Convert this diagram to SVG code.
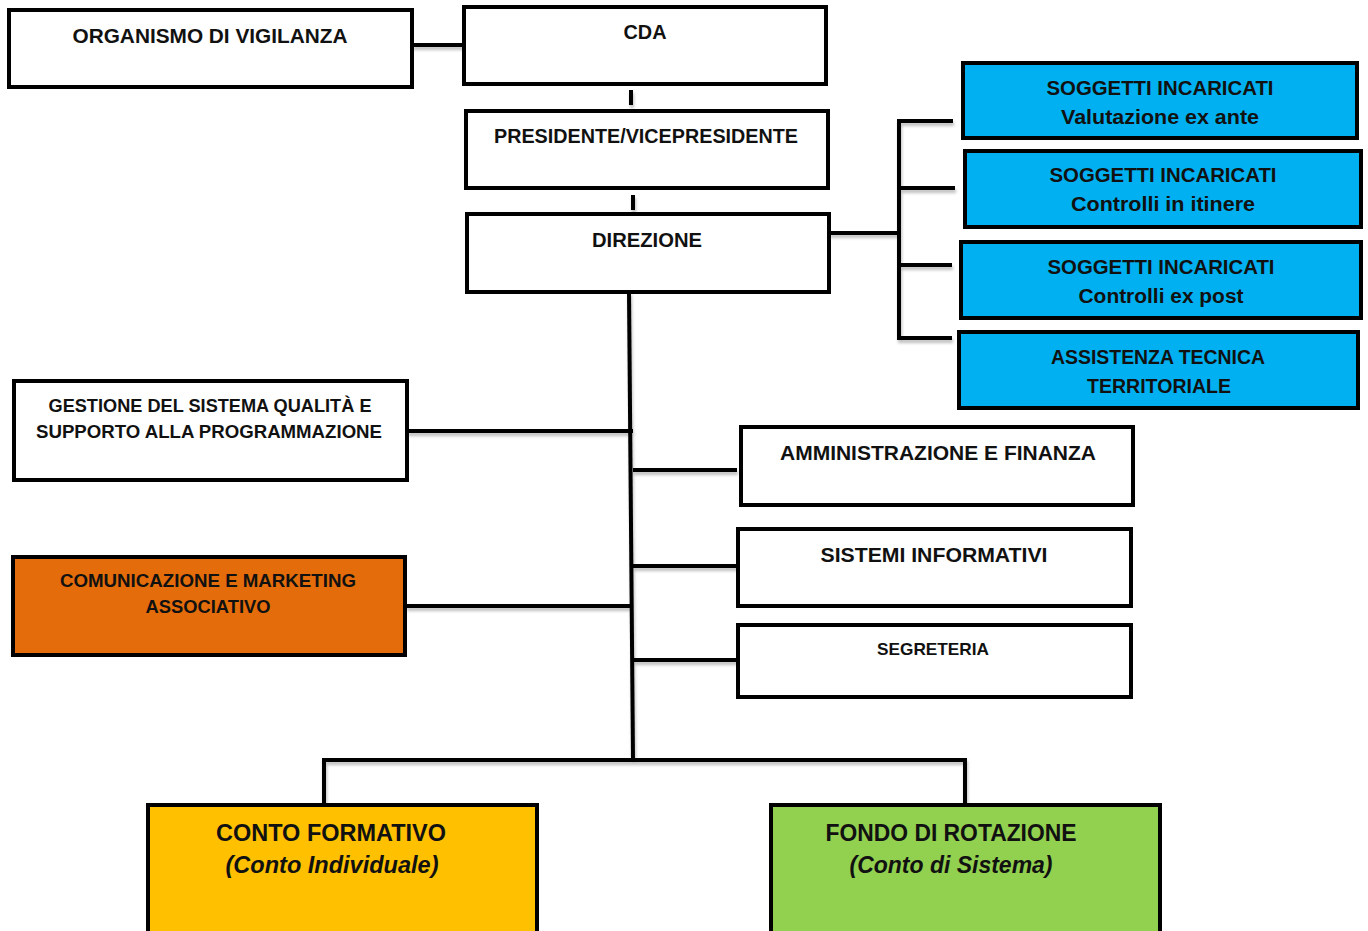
<svg xmlns="http://www.w3.org/2000/svg" width="1368" height="931" viewBox="0 0 1368 931">
<defs>
<style>
.box{stroke:#000;stroke-width:4;}
.w{fill:#fff;}
.b{fill:#00B0F0;}
.o{fill:#E46C0A;}
.y{fill:#FFC000;}
.g{fill:#92D050;}
text{font-family:"Liberation Sans",Arial,sans-serif;font-weight:bold;fill:#111;text-anchor:middle;}
.t20{font-size:20px;}
.t18{font-size:18px;}
.t17{font-size:17px;}
.t23{font-size:23px;}
.it{font-style:italic;font-weight:bold;}
.ln{stroke:#000;stroke-width:4;fill:none;}
</style>
<filter id="sh" x="-5%" y="-5%" width="110%" height="120%">
<feDropShadow dx="1" dy="3" stdDeviation="1.5" flood-color="#000" flood-opacity="0.25"/>
</filter>
</defs>
<rect width="1368" height="931" fill="#fff"/>
<g id="connectors" filter="url(#sh)">
<line class="ln" x1="412" y1="45" x2="465" y2="45"/>
<line class="ln" x1="631" y1="90" x2="631" y2="105"/>
<line class="ln" x1="633" y1="195" x2="633" y2="210"/>
<line class="ln" x1="829" y1="233" x2="899" y2="233"/>
<polyline class="ln" points="953,121 899,121 899,338 952,338"/>
<line class="ln" x1="899" y1="188" x2="955" y2="188"/>
<line class="ln" x1="899" y1="265" x2="952" y2="265"/>
<line class="ln" x1="629" y1="292" x2="633" y2="760"/>
<line class="ln" x1="407" y1="431" x2="633" y2="431"/>
<line class="ln" x1="633" y1="470" x2="737" y2="470"/>
<line class="ln" x1="406" y1="606" x2="633" y2="606"/>
<line class="ln" x1="633" y1="566" x2="738" y2="566"/>
<line class="ln" x1="633" y1="660" x2="738" y2="660"/>
<polyline class="ln" points="324,804 324,760 965,760 965,804"/>
</g>
<g id="organismo">
<rect class="box w" x="9" y="10" width="403" height="77"/>
<text class="t20" x="210" y="43" textLength="275" lengthAdjust="spacingAndGlyphs">ORGANISMO DI VIGILANZA</text>
</g>
<g id="cda">
<rect class="box w" x="464" y="7" width="362" height="77"/>
<text class="t20" x="645" y="39" textLength="43" lengthAdjust="spacingAndGlyphs">CDA</text>
</g>
<g id="presidente">
<rect class="box w" x="466" y="111" width="362" height="77"/>
<text class="t20" x="646" y="143" textLength="304" lengthAdjust="spacingAndGlyphs">PRESIDENTE/VICEPRESIDENTE</text>
</g>
<g id="direzione">
<rect class="box w" x="467" y="214" width="362" height="78"/>
<text class="t20" x="647" y="247" textLength="110" lengthAdjust="spacingAndGlyphs">DIREZIONE</text>
</g>
<g id="sogg1">
<rect class="box b" x="963" y="63" width="394" height="75"/>
<text class="t20" x="1160" y="95" textLength="227" lengthAdjust="spacingAndGlyphs">SOGGETTI INCARICATI</text>
<text class="t20" x="1160" y="124" textLength="198" lengthAdjust="spacingAndGlyphs">Valutazione ex ante</text>
</g>
<g id="sogg2">
<rect class="box b" x="965" y="151" width="396" height="76"/>
<text class="t20" x="1163" y="182" textLength="227" lengthAdjust="spacingAndGlyphs">SOGGETTI INCARICATI</text>
<text class="t20" x="1163" y="211" textLength="184" lengthAdjust="spacingAndGlyphs">Controlli in itinere</text>
</g>
<g id="sogg3">
<rect class="box b" x="961" y="242" width="400" height="76"/>
<text class="t20" x="1161" y="274" textLength="227" lengthAdjust="spacingAndGlyphs">SOGGETTI INCARICATI</text>
<text class="t20" x="1161" y="303" textLength="165" lengthAdjust="spacingAndGlyphs">Controlli ex post</text>
</g>
<g id="assistenza">
<rect class="box b" x="959" y="332" width="399" height="76"/>
<text class="t20" x="1158" y="364" textLength="214" lengthAdjust="spacingAndGlyphs">ASSISTENZA TECNICA</text>
<text class="t20" x="1159" y="393" textLength="144" lengthAdjust="spacingAndGlyphs">TERRITORIALE</text>
</g>
<g id="gestione">
<rect class="box w" x="14" y="381" width="393" height="99"/>
<text class="t18" x="210" y="412" textLength="323" lengthAdjust="spacingAndGlyphs">GESTIONE DEL SISTEMA QUALITÀ  E</text>
<text class="t18" x="209" y="438" textLength="346" lengthAdjust="spacingAndGlyphs">SUPPORTO ALLA PROGRAMMAZIONE</text>
</g>
<g id="comunicazione">
<rect class="box o" x="13" y="557" width="392" height="98"/>
<text class="t18" x="208" y="587" textLength="296" lengthAdjust="spacingAndGlyphs">COMUNICAZIONE E MARKETING</text>
<text class="t18" x="208" y="613" textLength="125" lengthAdjust="spacingAndGlyphs">ASSOCIATIVO</text>
</g>
<g id="amministrazione">
<rect class="box w" x="741" y="427" width="392" height="78"/>
<text class="t20" x="938" y="460" textLength="316" lengthAdjust="spacingAndGlyphs">AMMINISTRAZIONE E FINANZA</text>
</g>
<g id="sistemi">
<rect class="box w" x="738" y="529" width="393" height="77"/>
<text class="t20" x="934" y="562" textLength="227" lengthAdjust="spacingAndGlyphs">SISTEMI INFORMATIVI</text>
</g>
<g id="segreteria">
<rect class="box w" x="738" y="625" width="393" height="72"/>
<text class="t17" x="933" y="655" textLength="112" lengthAdjust="spacingAndGlyphs">SEGRETERIA</text>
</g>
<g id="conto">
<rect class="box y" x="148" y="805" width="389" height="130"/>
<text class="t23" x="331" y="841" textLength="230" lengthAdjust="spacingAndGlyphs">CONTO FORMATIVO</text>
<text class="t23 it" x="332" y="873" textLength="213" lengthAdjust="spacingAndGlyphs">(Conto Individuale)</text>
</g>
<g id="fondo">
<rect class="box g" x="771" y="805" width="389" height="130"/>
<text class="t23" x="951" y="841" textLength="251" lengthAdjust="spacingAndGlyphs">FONDO DI ROTAZIONE</text>
<text class="t23 it" x="951" y="873" textLength="203" lengthAdjust="spacingAndGlyphs">(Conto di Sistema)</text>
</g>
</svg>
